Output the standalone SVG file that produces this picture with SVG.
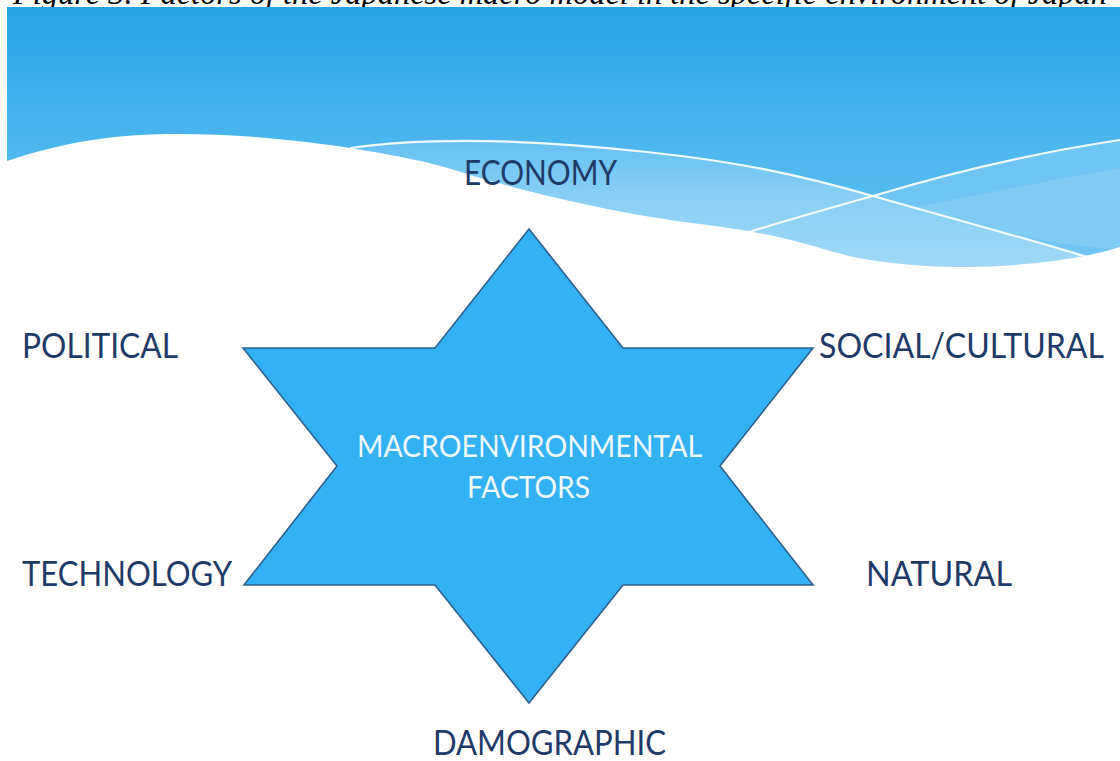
<svg xmlns="http://www.w3.org/2000/svg" width="1120" height="761" viewBox="0 0 1120 761">
  <style>
    .lbl { font-family: Lato, "Open Sans", "Liberation Sans", sans-serif; font-size: 34px; fill: #1f3a68; }
    .ctr { font-family: Lato, "Open Sans", "Liberation Sans", sans-serif; font-size: 31px; fill: #eef8ff; text-anchor: middle; }
    .cap { font-family: "Liberation Serif", "DejaVu Serif", serif; font-style: italic; font-size: 33px; fill: #000; }
    .wline { fill: none; stroke: #ffffff; stroke-width: 2.2; stroke-opacity: 0.9; }
    .star { fill: #33b1f5; stroke: #2d5f8c; stroke-width: 1.6; stroke-linejoin: miter; }
  </style>
  <defs>
    <linearGradient id="sky" x1="0" y1="0" x2="0" y2="1">
      <stop offset="0" stop-color="#26a3e4"/>
      <stop offset="0.55" stop-color="#4fb8ef"/>
      <stop offset="1" stop-color="#5cc0f2"/>
    </linearGradient>
    <linearGradient id="band" x1="0" y1="0" x2="0" y2="1">
      <stop offset="0" stop-color="#64c1f1"/>
      <stop offset="0.35" stop-color="#86cef5"/>
      <stop offset="1" stop-color="#a8dcf8"/>
    </linearGradient>
  </defs>

  <rect width="1120" height="761" fill="#ffffff"/>

  <!-- clipped caption -->
  <text class="cap" x="13" y="4" textLength="1094" lengthAdjust="spacingAndGlyphs">Figure 3. Factors of the Japanese macro model in the specific environment of Japan</text>

  <!-- header background -->
  <g id="header">
    <rect x="7" y="7" width="1113" height="275" fill="url(#sky)"/>
    <path d="M350,148 C420,138 520,138 647,152 C740,162 800,175 873,196 C960,221 1040,242 1095,260 L1095,290 L350,290 Z" fill="url(#band)"/>
    <path d="M873,196 C960,170 1040,152 1120,140 L1120,300 L1095,260 C1040,242 960,221 873,196 Z" fill="#6fc5f3"/>
    <path d="M900,210 C980,195 1050,180 1120,168 L1120,250 C1060,245 990,232 900,210 Z" fill="#8ad0f6" opacity="0.6"/>
    <path d="M0,161 L7,161 C70,140 120,134 178,134 S300,140 350,148 S430,162 464,173 S600,212 700,224 S820,252 870,260 S970,268 1000,266 S1080,260 1120,247 L1120,761 L0,761 Z" fill="#ffffff"/>
    <path class="wline" d="M350,148 C420,138 520,138 647,152 C740,162 800,175 873,196 C960,221 1040,242 1090,258"/>
    <path class="wline" d="M730,238 C780,222 830,208 873,196 C960,170 1040,152 1120,140"/>
  </g>

  <g id="connectors"></g>

  <g id="node-center">
    <polygon class="star" points="529,229 623,348 813,348 720,466 813,585 623,585 529,703 435,585 244,585 337,466 243,348 435,348"/>
    <text class="ctr" x="529.5" y="457" textLength="345" lengthAdjust="spacingAndGlyphs">MACROENVIRONMENTAL</text>
    <text class="ctr" x="528.5" y="498" textLength="123" lengthAdjust="spacingAndGlyphs">FACTORS</text>
  </g>

  <g id="node-economy">
    <text class="lbl" x="464" y="185" textLength="153" lengthAdjust="spacingAndGlyphs">ECONOMY</text>
  </g>
  <g id="node-political">
    <text class="lbl" x="22" y="358" textLength="156" lengthAdjust="spacingAndGlyphs">POLITICAL</text>
  </g>
  <g id="node-social">
    <text class="lbl" x="819" y="358" textLength="285" lengthAdjust="spacingAndGlyphs">SOCIAL/CULTURAL</text>
  </g>
  <g id="node-technology">
    <text class="lbl" x="22" y="586" textLength="210" lengthAdjust="spacingAndGlyphs">TECHNOLOGY</text>
  </g>
  <g id="node-natural">
    <text class="lbl" x="866" y="586" textLength="146" lengthAdjust="spacingAndGlyphs">NATURAL</text>
  </g>
  <g id="node-demographic">
    <text class="lbl" x="433" y="755" textLength="233" lengthAdjust="spacingAndGlyphs">DAMOGRAPHIC</text>
  </g>
</svg>
